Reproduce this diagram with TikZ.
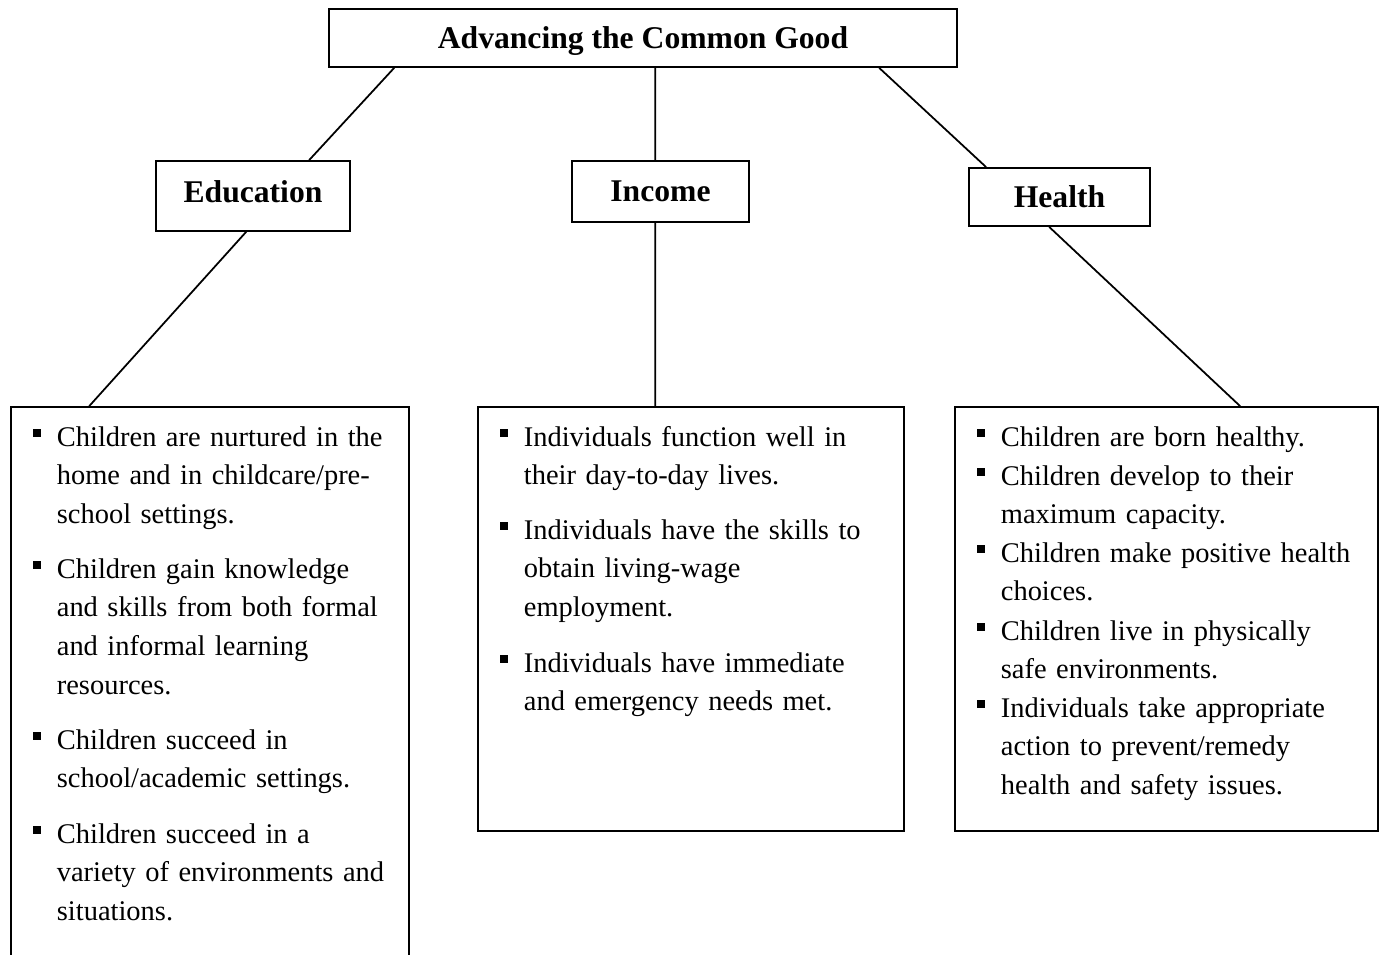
\documentclass[tikz,border=0pt]{standalone}
\usepackage{fontspec}
\setmainfont{Liberation Serif}
\usetikzlibrary{calc}

\begin{document}
\begin{tikzpicture}%
  [x=0.02cm,y=-0.02cm,line width=1pt]
  \tikzstyle{head node}=[rectangle,draw,inner sep=0,text height=13.7pt,text depth=1.8pt,font=\fontsize{18}{21}\selectfont\bfseries]
  \tikzstyle{list node}=[rectangle,draw,inner sep=0]
  \tikzstyle{item node}=[anchor=base west,inner sep=0,text width=7.6cm,align=left,font=\fontsize{16.2}{22.1}\selectfont]
  \tikzstyle{dot node}=[rectangle,fill,inner sep=0,minimum size=0.15cm]
  \useasboundingbox (0,0) rectangle (1386,954);
  % headings
  \node(top)[head node,minimum width=12.56cm,minimum height=1.16cm] at (643,38) {Advancing the Common Good};
  \node(edu)[head node,text height=9pt,minimum width=3.88cm,minimum height=1.4cm] at (253,196) {Education};
  \node(inc)[head node,minimum width=3.54cm,minimum height=1.22cm] at (660.5,191.5) {Income};
  \node(hea)[head node,minimum width=3.62cm,minimum height=1.16cm] at (1059.5,197) {Health};
  % outcome boxes
  \node(edulist)[list node,minimum width=7.96cm,minimum height=11.72cm] at (210,700) {};
  \node(inclist)[list node,minimum width=8.52cm,minimum height=8.48cm] at (691,619) {};
  \node(healist)[list node,minimum width=8.46cm,minimum height=8.48cm] at (1166.5,619) {};
  % connectors
  \draw ($(top.south west)+(66,0)$) -- ($(edu.north west)+(154,0)$);
  \draw ($(top.south west)+(327,0)$) -- ($(inc.north west)+(84,0)$);
  \draw ($(top.south west)+(551,0)$) -- ($(hea.north west)+(18,0)$);
  \draw ($(edu.south west)+(91,0)$) -- ($(edulist.north west)+(79,0)$);
  \draw ($(inc.south west)+(84,0)$) -- ($(inclist.north west)+(178,0)$);
  \draw ($(hea.south west)+(81,0)$) -- ($(healist.north west)+(286,0)$);
  % bullet items
  \foreach \n/\x/\y/\t in {
    e1/56/446/{Children are nurtured in the\\home and in childcare/pre-\\school settings.},
    e2/56/578/{Children gain knowledge\\and skills from both formal\\and informal learning\\resources.},
    e3/56/749/{Children succeed in\\school/academic settings.},
    e4/56/843/{Children succeed in a\\variety of environments and\\situations.},
    i1/523/446/{Individuals function well in\\their day-to-day lives.},
    i2/523/539/{Individuals have the skills to\\obtain living-wage\\employment.},
    i3/523/672/{Individuals have immediate\\and emergency needs met.},
    h1/1000/446/{Children are born healthy.},
    h2/1000/485/{Children develop to their\\maximum capacity.},
    h3/1000/562/{Children make positive health\\choices.},
    h4/1000/640/{Children live in physically\\safe environments.},
    h5/1000/717/{Individuals take appropriate\\action to prevent/remedy\\health and safety issues.}}
  {
    \node(\n)[item node] at (\x,\y) {\t};
    \node(\n b)[dot node] at (\x-19,\y-13) {};
  }
\end{tikzpicture}
\end{document}
